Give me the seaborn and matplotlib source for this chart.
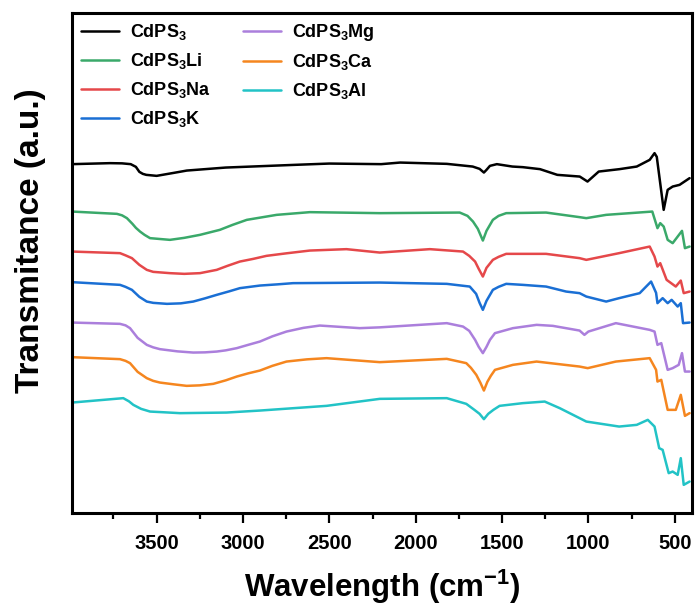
import numpy as np
import pandas as pd
import seaborn as sns
import matplotlib
matplotlib.use("Agg")
import matplotlib.pyplot as plt
from matplotlib.ticker import MultipleLocator

sns.set_style("white")
plt.rcParams["font.family"] = ["Liberation Sans", "DejaVu Sans"]
plt.rcParams["font.weight"] = "bold"
plt.rcParams["text.color"] = "black"
plt.rcParams["axes.labelcolor"] = "black"
plt.rcParams["xtick.color"] = "black"
plt.rcParams["mathtext.fontset"] = "custom"
plt.rcParams["mathtext.rm"] = "Liberation Sans:bold"
plt.rcParams["mathtext.it"] = "Liberation Sans:bold"
plt.rcParams["mathtext.bf"] = "Liberation Sans:bold"

# FTIR spectra, offset for display (a.u.)
wn_cdps3 = [3990, 3770, 3700, 3650, 3620, 3600, 3580, 3560, 3500, 3400, 3325, 3100, 2700, 2500, 2200, 2090,
            1820, 1670, 1630, 1605, 1590, 1570, 1530, 1440, 1380, 1280, 1180, 1050, 1005, 940, 820, 720,
            645, 617, 604, 564, 541, 512, 472, 414]
t_cdps3 = [348.7, 349.7, 349.5, 348.7, 346, 341, 339, 338, 337, 340, 342.3, 345.3, 348, 349.3, 348.7, 350.3,
           349, 346.3, 344, 340.3, 343, 347, 348.7, 346.3, 345.7, 343.7, 338, 336.3, 331.3, 341.3, 343.7, 346.3,
           353, 359.7, 356, 303, 323, 326.3, 328, 334.7]

wn_li = [3990, 3730, 3700, 3672, 3640, 3620, 3596, 3570, 3538, 3423, 3340, 3249, 3134, 3060, 2978, 2805,
         2613, 2208, 1745, 1700, 1668, 1640, 1611, 1590, 1553, 1520, 1476, 1245, 1051, 1012, 897, 630,
         600, 584, 564, 541, 512, 483, 458, 441, 414]
t_li = [301.3, 299, 297.5, 294.7, 289, 285, 281.3, 278, 274.7, 273, 275, 278, 283, 288, 293, 298,
        300.7, 299.7, 300.3, 297, 291.3, 284, 272.3, 282, 293, 297, 299.7, 300.3, 295.7, 294.7, 298, 301.3,
        284.7, 289.7, 286.3, 273, 269.7, 276.3, 282, 264.7, 266.3]

wn_na = [3990, 3712, 3680, 3643, 3600, 3557, 3520, 3423, 3340, 3249, 3152, 3090, 3018, 2940, 2864, 2750,
         2613, 2401, 2208, 1918, 1726, 1690, 1656, 1635, 1611, 1590, 1553, 1520, 1476, 1245, 1051, 1012,
         822, 645, 617, 600, 584, 547, 494, 465, 448, 414]
t_na = [261.3, 259.7, 257.5, 254.7, 248, 243, 241, 239.7, 239, 239.7, 243, 247, 251.3, 254, 257, 259.5,
        262.3, 263.7, 260.3, 263.7, 261.3, 257, 251.3, 244, 236.3, 245, 253, 256, 259, 259, 254.7, 253,
        259.7, 266.3, 256.3, 246.3, 249.7, 233, 226.3, 232.3, 219.7, 221.3]

wn_k = [3990, 3712, 3680, 3643, 3600, 3557, 3520, 3440, 3360, 3288, 3220, 3152, 3080, 3018, 2902, 2800,
        2710, 2208, 1820, 1687, 1650, 1630, 1611, 1590, 1553, 1520, 1476, 1380, 1245, 1129, 1051, 1012,
        897, 822, 703, 637, 608, 600, 570, 541, 518, 483, 465, 452, 414]
t_k = [230.7, 228, 226, 223, 216, 211.3, 210, 209, 209.5, 211.3, 214.5, 218, 221.5, 224.7, 227.3, 228.5,
       229.7, 230.3, 229, 226.3, 219, 210, 203, 212, 223, 226, 229, 228, 226.3, 221.3, 219.7, 216.3,
       211.3, 214.7, 219.7, 231.3, 220, 209.7, 214.7, 209.7, 213, 206.3, 209.7, 189.7, 190.3]

wn_mg = [3990, 3712, 3680, 3654, 3610, 3557, 3520, 3481, 3380, 3288, 3220, 3152, 3100, 3036, 2970, 2902,
         2830, 2748, 2650, 2555, 2324, 2208, 1820, 1726, 1690, 1656, 1635, 1611, 1590, 1570, 1541, 1437,
         1300, 1206, 1051, 1023, 1000, 841, 645, 617, 600, 578, 541, 512, 477, 458, 441, 414]
t_mg = [190.3, 189, 187.5, 184.7, 175, 168, 165.5, 163.7, 161.5, 160.3, 160.5, 161.3, 162.5, 164.7, 168, 171.3,
        176.5, 181.3, 185, 187.3, 184.7, 185.5, 189.7, 186.3, 182, 173, 166, 159.7, 166, 173, 179.7, 184.7,
        188, 187, 182.3, 178, 181.3, 189.7, 183, 181.3, 168, 169.7, 143, 144.7, 148, 159.7, 141.3, 141.3]

wn_ca = [3990, 3712, 3680, 3654, 3610, 3557, 3520, 3481, 3400, 3326, 3250, 3172, 3100, 3036, 2970, 2902,
         2830, 2748, 2630, 2516, 2208, 1820, 1707, 1680, 1649, 1625, 1605, 1585, 1565, 1541, 1437, 1300,
         1051, 1004, 841, 645, 608, 600, 578, 541, 494, 465, 441, 414]
t_ca = [155.7, 153.7, 152, 149.7, 141, 134.7, 132, 130.3, 128.5, 127, 127.5, 129, 132.5, 136.3, 139.5, 142.3,
        147, 151.3, 153.5, 154.7, 150.7, 154, 149.7, 145, 138, 130, 122.3, 131, 137, 143, 148, 151.3,
        146.3, 144.7, 151.3, 154.7, 143, 131.3, 133, 103, 103, 118, 97, 99.7]

wn_al = [3990, 3693, 3660, 3635, 3590, 3538, 3450, 3365, 3095, 2902, 2516, 2208, 1820, 1707, 1660, 1630,
         1605, 1580, 1550, 1514, 1380, 1253, 1166, 1051, 1012, 822, 720, 656, 617, 590, 570, 535,
         512, 483, 465, 448, 414]
t_al = [110.3, 114.7, 111.5, 108, 104, 101.3, 100.5, 99.7, 100.3, 102.3, 107, 114, 114.7, 109, 103, 99,
        93.7, 99, 103, 107, 109.7, 111.3, 104.7, 94.7, 91.3, 86.3, 88, 93, 86.3, 64.7, 63, 39.7,
        41.3, 38, 54.7, 28, 31.3]

labels = ["CdPS$_3$", "CdPS$_3$Li", "CdPS$_3$Na", "CdPS$_3$K",
          "CdPS$_3$Mg", "CdPS$_3$Ca", "CdPS$_3$Al"]
colors = ["#000000", "#3aa96a", "#e5484a", "#1a6fd4", "#ab7fdc", "#f5861f", "#22c3c6"]

frames = []
for lab, wn, t in zip(labels,
                      [wn_cdps3, wn_li, wn_na, wn_k, wn_mg, wn_ca, wn_al],
                      [t_cdps3, t_li, t_na, t_k, t_mg, t_ca, t_al]):
    frames.append(pd.DataFrame({"wn": wn, "T": t, "sample": lab}))
data = pd.concat(frames, ignore_index=True)

fig, ax = plt.subplots(figsize=(6.99, 6.12), dpi=100)
fig.subplots_adjust(left=0.103, right=0.990, bottom=0.162, top=0.979)

sns.lineplot(data=data, x="wn", y="T", hue="sample", hue_order=labels,
             palette=dict(zip(labels, colors)), estimator=None, sort=False,
             linewidth=1.8, ax=ax)

ax.set_xlim(3990, 400)
ax.set_ylim(0, 500)
ax.xaxis.set_major_locator(MultipleLocator(500))
ax.xaxis.set_minor_locator(MultipleLocator(250))
ax.set_yticks([])
ax.tick_params(axis="x", which="major", direction="out", length=7.5, width=1.6,
               labelsize=14.5, pad=8, bottom=True, colors="black")
ax.tick_params(axis="x", which="minor", direction="out", length=4.5, width=1.6, bottom=True,
               colors="black")
for s in ax.spines.values():
    s.set_linewidth(2.2)
    s.set_color("black")

ax.set_xlabel("Wavelength (cm$^{-1}$)", fontsize=22.5, fontweight="bold", labelpad=10, color="black")
ax.set_ylabel("Transmitance (a.u.)", fontsize=24, fontweight="bold", color="black")
ax.yaxis.set_label_coords(-0.042, 0.544)

handles, labs = ax.get_legend_handles_labels()
leg = ax.legend(handles, labs, loc="upper left", bbox_to_anchor=(0.0, 1.0), ncol=2,
                frameon=False, fontsize=13, handlelength=2.1, handletextpad=0.6,
                columnspacing=1.8, labelspacing=0.5, borderaxespad=0.2, borderpad=0.3)
for txt in leg.get_texts():
    txt.set_color("black")

plt.savefig("out.png", dpi=100)
